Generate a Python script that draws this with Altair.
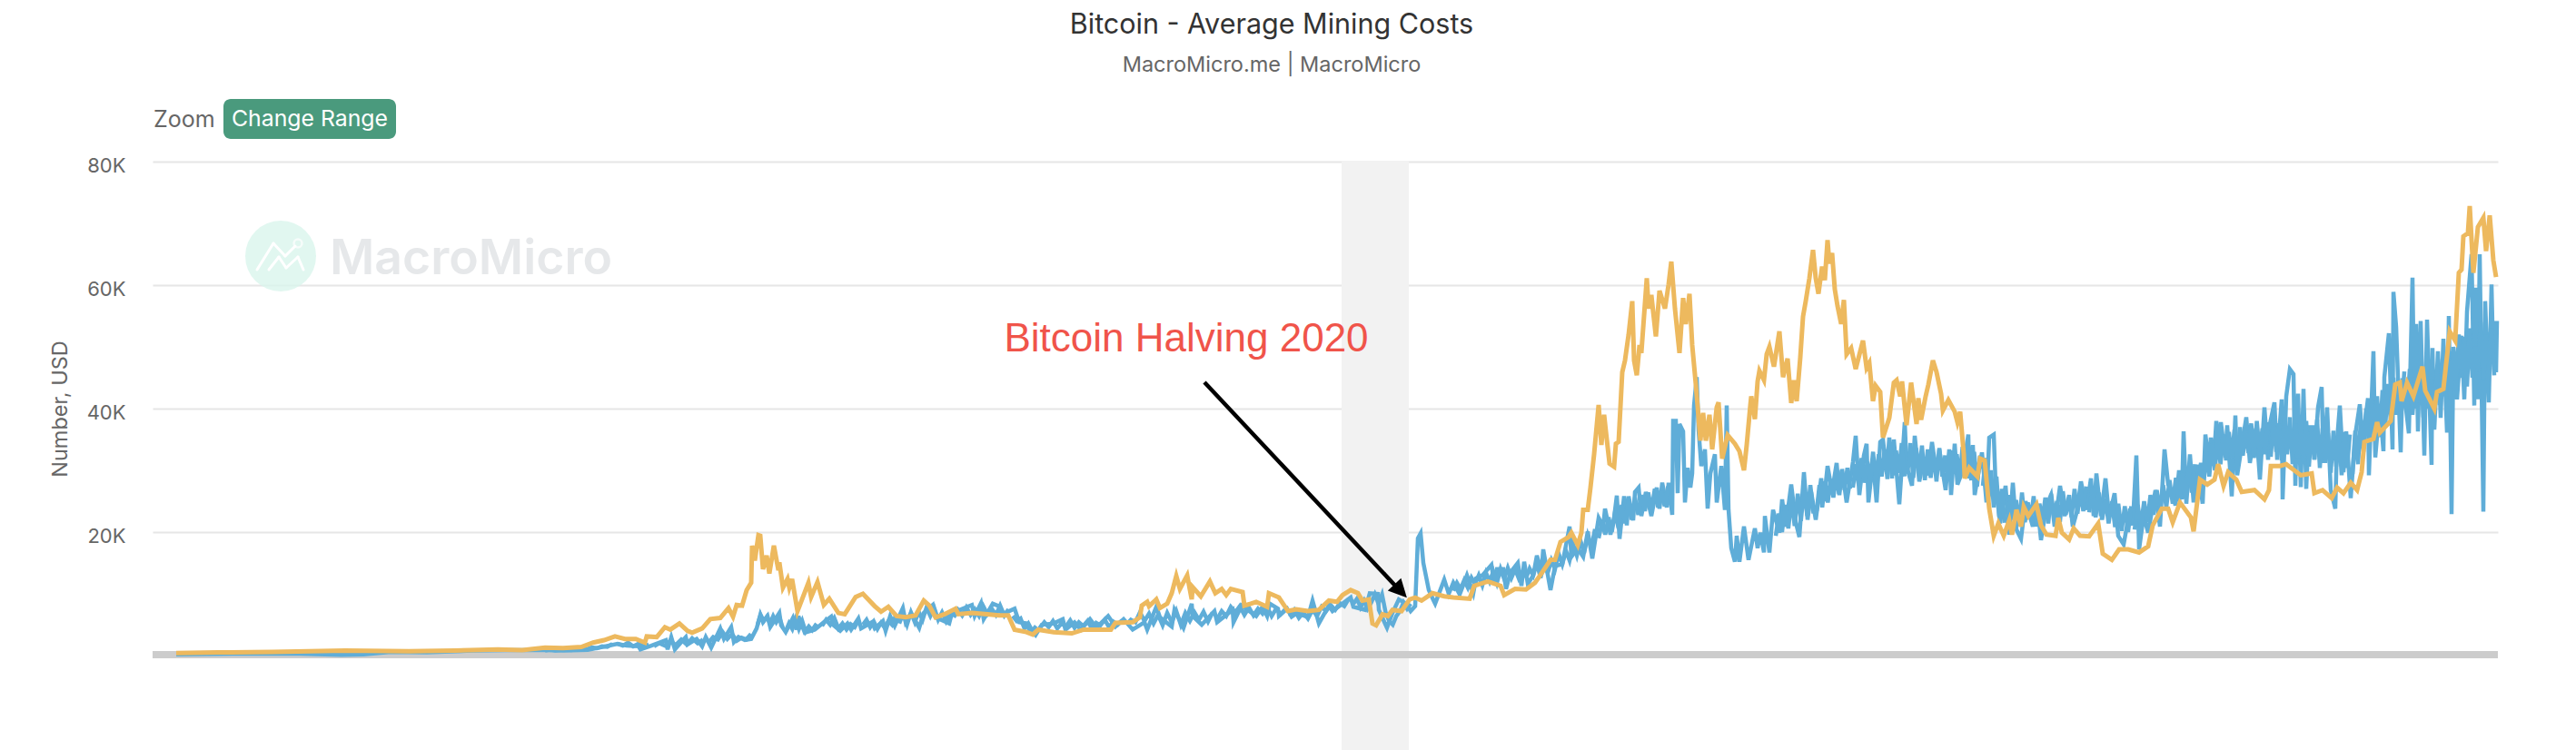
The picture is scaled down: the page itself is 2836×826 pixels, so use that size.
import altair as alt
import numpy as np
import pandas as pd

# Series values: (day position along the hidden time axis, USD thousands)
YELLOW = [
(194,.4),(240,.5),(300,.6),(380,.8),(450,.7),(500,.8),(548,1.0),(575,.9),(600,1.3),(620,1.2),(640,1.4),(653,2.1),(665,2.5),(677,3.1),(688,2.7),(700,2.7),(710,2.1),(712,3.1),(723,3.0),(732,4.6),(738,4.2),(748,5.2),(757,4.0),(762,3.7),(773,4.4),(782,5.9),(793,6.1),(802,7.7),(807,6.3),(811,8.2),(817,8.1),(822,10.6),(827,11.8),(828,17.8),(831,15.4),(835,19.5),(837,19.4),(840,14.0),(844,16.2),(847,13.3),(852,17.8),(857,13.8),(858,15.1),(862,11.0),(867,12.4),(869,11),(872,12.4),(878,7.2),(883,9.1),(890,11.8),(893,9.5),(900,11.9),(907,8.2),(913,9.2),(923,6.9),(930,6.7),(942,9.5),(950,10.0),(963,8.0),(970,7.1),(978,7.9),(987,6.4),(997,6.2),(1008,6.5),(1017,8.9),(1023,8.1),(1030,6.2),(1040,6.7),(1052,7.6),(1055,6.7),(1070,6.9),(1087,6.7),(1100,6.5),
(1110,6.5),(1117,4.2),(1130,3.8),(1137,3.4),(1143,4.2),(1160,3.8),(1180,3.6),(1193,4.2),(1223,4.2),(1228,5.3),(1247,5.4),(1255,6.2),(1257,8.1),(1263,8.7),(1265,8.0),(1273,9.1),(1277,7.7),(1285,8.4),(1290,10.1),(1295,12.9),(1299,10.8),(1307,13.0),(1312,9.1),(1313,11.1),(1322,9.6),(1332,12.0),(1338,10.1),(1345,10.8),(1350,9.8),(1355,10.8),(1368,10.3),(1370,8.1),(1377,8.4),(1383,8.7),(1395,7.9),(1397,10.1),(1408,9.4),(1418,7.2),(1427,7.5),(1440,7.2),(1452,7.4),(1463,8.9),(1472,8.7),(1478,9.8),(1487,10.6),(1495,10.1),(1500,8.9),(1507,9.1),(1511,5.2),(1515,4.9),(1522,6.7),(1528,6.4),(1533,7.4),(1543,7.2),(1552,9.1),(1558,9.4),(1565,8.9),(1577,10.1),(1590,9.6),(1600,9.4),
(1618,9.2),(1623,11.3),(1638,12.0),(1652,11.3),(1656,9.8),(1668,10.8),(1680,10.7),(1690,11.8),(1698,13.5),(1707,15.5),(1712,15.5),(1718,18.4),(1727,19.2),(1730,19.9),(1737,17.9),(1741,19.9),(1743,23.6),(1748,23.6),(1751,27.2),(1755,32.6),(1760,40.6),(1763,34.1),(1766,39.0),(1768,36.3),(1772,31.1),(1777,30.6),(1779,34.3),(1782,34.6),(1786,45.9),(1789,47.8),(1793,52.0),(1797,57.4),(1799,47.8),(1802,45.4),(1805,50.3),(1807,49.0),(1813,61.1),(1815,56.2),(1818,58.4),(1823,51.7),(1827,59.1),(1833,56.2),(1837,60.1),(1840,63.8),(1844,56.2),(1849,49.0),(1853,57.9),(1856,53.7),(1860,58.6),(1863,50.3),(1867,43.9),(1872,34.8),(1875,39.3),(1878,34.8),(1882,39.0),(1885,33.4),(1890,40.2),(1892,41),(1896,31.9),(1902,35.7),(1910,34.3),(1915,33.1),(1920,30),(1923,34.1),(1927,40.5),(1928,42),(1932,38.3),(1935,44.4),(1937,46.1),(1942,44.6),(1945,48.8),(1948,50),(1953,46.8),(1959,52.5),(1963,45.1),(1968,48.1),(1972,40.9),(1975,44.6),(1978,41.2),(1982,48.3),(1985,54.9),(1988,57.4),(1992,61.1),(1996,65.7),(1999,61.1),(2002,58.6),(2006,63),(2009,60.8),(2012,67.3),(2014,63.5),(2017,65.2),(2020,59.3),(2023,56.6),(2027,53.7),(2030,57.6),(2033,48.8),(2038,49.8),(2043,46.4),(2051,51),(2055,46.6),(2058,47.4),(2062,41.2),(2065,43.7),(2070,42.7),(2073,35.3),(2080,38.5),
(2085,44.2),(2088,44.6),(2092,42),(2094,44.4),(2099,37.3),(2104,44.2),(2110,37.5),(2112,41.7),(2115,38.2),(2120,42),(2123,43.9),(2128,47.8),(2132,45.9),(2137,42.4),(2139,39.7),(2145,41.4),(2152,39.5),(2155,37.8),(2158,39.5),(2162,32.6),(2163,28.7),(2168,30.4),(2177,29),(2180,31.9),(2185,31.6),(2190,23.8),(2195,19.4),(2200,21.4),(2206,19.4),(2212,21.9),(2215,19.6),(2220,23.6),(2225,20.9),(2228,24.1),(2233,22.6),(2242,24.5),(2247,21.1),(2253,19.6),(2263,19.4),(2266,22.3),(2270,19.9),(2278,18.8),(2283,20.6),(2290,19.4),(2300,19.3),(2310,21.4),(2315,16.5),(2325,15.5),(2333,17.2),(2343,17.2),(2355,16.7),(2365,17.7),(2370,21.1),(2380,23.8),(2387,23.8),(2392,21.6),(2400,24.8),
(2412,22.4),(2415,20.1),(2422,28.5),(2430,27.7),(2438,28.5),(2442,31),(2448,27.5),(2453,29.7),(2462,28.5),(2468,26.5),(2482,26.8),(2493,25.3),(2498,26.8),(2500,30.7),(2510,30.7),(2517,31),(2533,29.2),(2545,29.5),(2548,26.3),(2557,26.8),(2567,25.5),(2573,27.2),(2580,26.3),(2588,28),(2595,26.8),(2600,29.7),(2603,34.6),(2613,35.1),(2617,37.8),(2620,36.1),(2632,38),(2637,43.9),(2642,44.2),(2644,41.2),(2650,44.2),(2657,42),(2662,44.4),(2667,46.8),(2670,42.9),(2680,40),(2683,42.7),(2690,43.2),(2697,52.5),(2703,51),(2707,62),(2710,62.5),(2712,67.9),(2717,68.4),(2719,72.8),(2723,62),(2728,69.4),(2734,70.9),(2737,65.5),(2741,71.3),(2745,64),(2748,61.3),
]

BLUE = [
(194,.2),(260,.3),(330,.3),(376,.1),(400,.2),(430,.6),(470,.5),(520,.8),(560,.9),(600,.9),(620,.8),(647,.9),(667,1.5),(680,1.9),(690,1.6),(703,1.5),(705,1.0),(717,1.6),(733,2.5),(735,1.0),(739,3.0),(743,1.0),(755,3.0),(757,1.8),(767,2.7),(773,1.5),(777,3.0),(783,1.3),(793,4.4),(797,2.7),(805,4.6),(808,2.2),(813,3.0),(820,2.5),(827,2.7),(833,4.4),(837,6.6),(840,5.4),(845,6.4),(848,4.6),(858,6.9),(860,4.9),(865,3.8),(873,6.1),(877,4.2),(879,6.4),(886,3.7),(897,4.2),(907,5.4),(915,6.3),(917,5.0),(925,4.0),(933,5.2),(937,4.2),(945,6.0),(948,4.4),(960,5.4),(963,4.4),(972,5.6),(975,4.0),(980,6.4),(985,4.8),(994,7.7),(997,5.4),(1003,6.9),(1012,4.5),(1017,6.9),(1027,8.2),(1030,6.2),(1045,5.2),(1048,6.9),(1070,8.2),(1073,6.4),(1080,8.5),(1083,5.9),(1093,8.4),(1100,8.0),
(1103,6.7),(1117,7.6),(1122,5.4),(1130,5.2),(1133,4.2),(1140,3.3),(1147,5.0),(1160,5.2),(1170,5.9),(1173,4.2),(1183,5.4),(1190,4.2),(1200,5.9),(1207,4.5),(1220,6.4),(1228,4.7),(1237,5.9),(1247,4.2),(1260,5.4),(1263,4.2),(1273,7.9),(1277,6.2),(1290,4.7),(1293,7.4),(1303,4.5),(1312,8.4),(1313,6.4),(1323,5.0),(1337,7.2),(1340,5.4),(1357,7.4),(1358,5.4),(1367,8.1),(1383,6.4),(1390,7.9),(1395,6.4),(1398,8.4),(1407,7.6),(1408,6.4),(1417,7.6),(1422,6.3),(1428,6.9),(1440,6.2),(1445,8.9),(1452,5.2),(1463,8.1),(1467,7.2),(1487,9.4),(1490,7.9),(1503,7.4),(1508,10.1),(1517,10),(1518,7.4),(1527,4.5),(1533,6.9),(1540,9.1),(1548,8.4),(1553,7.2),(1558,8.0),(1561,19),(1564,19.8),(1567,15),(1573,10.6),(1578,9),(1580,8.4),
(1590,12.3),(1595,10),(1600,11.8),(1607,9.9),(1615,13),(1622,10.1),(1625,12.5),(1632,13),(1642,14.7),(1645,11.8),(1648,14),(1655,14),(1658,10.8),(1663,13.5),(1671,15),(1675,11.3),(1678,15.2),(1682,11.6),(1688,13),(1692,16.2),(1697,13.5),(1699,17.2),(1707,10.6),(1712,14.5),(1720,14.8),(1728,20.9),(1730,16),(1737,17.4),(1743,16),(1748,20.1),(1753,15.7),(1760,22.3),(1765,20.9),(1767,23.8),(1773,19.6),(1777,22.3),(1780,25.9),(1783,18.9),(1788,25.8),(1791,21.1),(1793,25.8),(1798,21.9),(1800,26.5),(1804,27.2),(1807,22.6),(1812,26.5),(1818,22.6),(1824,27.2),(1827,23.8),(1830,28),(1835,24),(1837,28),(1841,22.8),(1842,38),(1845,38),(1847,26.3),(1849,37.5),(1853,36.3),(1855,24.8),(1858,30.4),(1861,27.2),(1863,29.5),(1865,40.5),(1868,45.1),(1870,36.6),(1873,30.7),(1877,33.4),(1880,23.8),(1883,29.5),(1888,32.6),(1890,24.8),(1895,30.7),(1899,23.6),(1901,40.5),(1903,23.6),(1906,17.4),(1910,15.2),(1912,19.4),(1915,15.2),(1920,20.9),(1925,15.5),(1932,20.6),(1935,17.4),(1938,19.9),(1942,16.7),(1943,22.6),(1948,16.7),(1952,23.6),(1959,19.9),(1962,25.3),(1966,20.9),(1972,27.7),(1977,21.6),(1981,19.2),(1986,29.7),(1990,22),(1994,26.5),(1999,22),(2005,28.7),(2008,25),(2012,30.7),(2017,26.5),(2022,31.2),(2025,26),(2028,30.2),(2033,24.8),(2040,31.4),(2043,35.6),(2047,26),(2052,32.4),(2055,34.3),(2057,24.8),(2062,31.6),(2066,24.8),(2070,34.6),(2073,35),(2077,29.7),
(2080,35.3),(2083,28.7),(2085,35),(2091,24.5),(2097,37.8),(2099,30.7),(2105,27.5),(2108,35.6),(2113,28.2),(2118,31.9),(2123,29.2),(2127,34.6),(2132,29.2),(2135,33.4),(2142,26.8),(2146,33.4),(2148,26),(2152,34.3),(2155,27.7),(2161,30),(2167,35.8),(2168,28.7),(2172,34.1),(2174,26),(2182,32.9),(2187,24.8),(2190,35.3),(2195,35.8),(2197,27.7),(2202,21.4),(2208,27.5),(2212,19.6),(2216,28),(2220,20.4),(2225,18.9),(2230,25),(2238,20.9),(2243,24.5),(2247,18.7),(2253,24.3),(2258,26),(2262,20.9),(2268,27.5),(2273,22.6),(2278,26),(2282,20.9),(2287,23.6),(2291,28.2),(2297,23.6),(2302,28.7),(2305,22.6),(2308,29.5),(2313,22.6),(2318,28.7),(2322,22.4),(2328,26.3),(2332,19.4),(2338,18),(2345,23.8),(2348,21.1),(2352,32.4),(2355,17.2),(2360,22.6),(2365,19.9),(2373,26.8),(2378,20.9),(2383,33.4),(2387,27.7),(2392,26.5),(2395,24.3),(2399,30),
(2402,25.3),(2404,36.3),(2407,24.6),(2411,32.6),(2415,24.8),(2419,30.9),(2425,24.6),(2428,35.8),(2432,31),(2434,35.3),(2437,31),(2440,38),(2443,32.6),(2445,37.8),(2450,32.1),(2452,37.3),(2457,25.8),(2461,38.9),(2463,29.2),(2473,38.6),(2477,31.2),(2482,36),(2484,36.8),(2488,28.5),(2493,40.2),(2497,31.7),(2499,37.5),(2504,41),(2507,31.7),(2512,41.5),(2513,25.3),(2517,42),(2521,46.4),(2525,45.6),(2527,27.5),(2530,42.4),(2533,27.3),(2536,43.2),(2539,27),(2542,37),(2547,37),(2548,31.7),(2552,40.2),(2556,43.5),(2558,31.2),(2562,40.2),(2566,26.8),(2571,23.8),(2573,35),(2576,40.5),(2580,29.7),(2583,36.3),(2588,25.5),(2593,35.8),(2598,40.7),(2601,34.6),(2607,41.7),(2608,29.2),(2613,49.3),(2615,32.1),(2620,40.5),(2624,33.1),(2625,45.1),(2630,52.2),(2634,33.4),(2635,58.9),(2638,53.2),(2643,32.9),(2645,44.9),(2652,36),(2656,61.2),(2658,40),(2660,53.7),(2662,36.3),(2665,54.2),(2669,32.4),(2672,54.4),(2677,30.9),(2678,49.8),(2680,36.6),(2684,49.3),(2687,38.5),(2690,51.3),(2694,36.1),(2696,55),(2699,22.9),(2701,49.3),(2705,41.5),(2710,51.8),(2713,41.5),(2716,55.7),(2721,65),(2724,40.5),(2725,59.6),(2728,41.5),(2730,65),(2734,23.3),(2736,57.4),(2740,41),(2743,60.1),(2745,47.3),(2747,54.2),(2748,45.9),(2749,54.2),
]

# Dense day-to-day swing of the blue series, estimated by eye: (first day, last day, USD thousands)
BLUE_SWING = [
(600,680,[.8,1.0,.8,.9,1.1,.9,1.0,1.2,1.0,1.3,1.2,1.5,1.4,1.9]),
(680,720,[1.9,1.6,2.1,1.5,1.9,1.5,1.8]),
(720,780,[1.5,2.0,1.6,2.4,1.7,2.6,1.8,2.8,2.0,2.6]),
(780,832,[2.1,3.0,2.6,3.8,2.7,3.5,2.4,2.9,2.6,3.5]),
(834,865,[5.0,6.6,5.6,6.3,5.2,6.4,5.4,6.2,4.6]),
(865,905,[3.9,5.2,4.3,5.9,4.3,5.6,3.9,4.7,4.1,4.9,4.5]),
(905,950,[4.8,5.8,5.0,6.1,4.4,5.2,4.2,5.1,4.6,5.8]),
(950,990,[5.0,5.8,4.6,5.5,4.3,5.3,4.5,5.6,5.0,6.4]),
(990,1050,[5.2,6.8,5.0,7.0,5.4,7.1,5.8,7.8,6.4,7.7,5.8,7.0,5.6,7.0]),
(1050,1115,[6.2,7.4,6.5,7.8,6.6,7.5,6.4,8.0,6.7,7.6,6.6,8.1,6.5,7.5]),
(1115,1145,[6.4,5.6,6.0,4.4,5.2,4.0,4.8]),
(1145,1240,[4.5,5.4,4.6,5.6,4.4,5.2,4.7,5.7,4.5,5.4,4.8,5.6,4.4,5.3,4.9,5.8,4.6,5.5,5.0,5.7]),
(1240,1340,[5.0,5.8,5.4,7.0,5.6,6.8,5.2,6.6,4.9,6.9,5.4,7.2,5.0,6.9,5.6,7.0,5.8,7.1,5.5,7.0]),
(1340,1420,[5.9,7.2,6.4,7.9,7.0,8.0,6.6,7.8,6.5,7.6,6.8,7.9,6.4,7.6,6.7,7.5]),
(1420,1490,[6.3,7.4,6.1,7.0,6.0,7.4,6.4,7.9,7.2,8.2,7.4,8.5,8.0,9.2]),
(1490,1557,[8.4,9.2,7.8,8.9,7.6,8.6,9.9,8.4,9.9,7.0,5.6,5.0,6.4,7.2,8.6,7.6,8.4]),
(1600,1680,[10.5,11.8,10.8,12.2,11.0,12.6,11.6,13.0,11.4,13.4,12.0,13.6,11.8,14.0,12.4,14.2,12.6,14.0,12.5,13.6]),
(1680,1760,[12.5,14.1,13,15,12.6,14.8,13.4,15.4,14,16.5,14.8,17,15.4,18,16.2,18.6,16.6,19.4,17.5,20.5]),
(1760,1840,[19,21.5,19.6,22.4,20,23.4,20.6,24.4,21.4,25,22,25.6,22.8,26,23.4,26.4,23.6,27,24,26.6,24.2,27.4]),
(1955,2000,[19.4,23,20,24.4,20.6,25.4,21,26.2,21.8,27,22.6,27.6,23]),
(2000,2040,[23.4,27.6,24,28.2,24.8,28.6,25.6,29.4,26.2,30,26.8,30.4,27]),
(2040,2100,[27.2,31,27.6,32,28,31.4,28.4,33,28.2,32.6,29,33.4,28.6,34,29.2,33.2,29.6,34.4,29]),
(2100,2183,[29.4,34.4,28.8,33.6,29.6,34,28.4,33.4,28.8,32.8,28.2,33.6,29,32.4,28.4,33.2,29.6,32.6,28.8,33.8,29.2,32.2,28.4,33,27.4,32.4]),
(2183,2210,[27.5,32,25,30,24,29,22.5,27,21.5]),
(2210,2300,[21.4,26,22,25.2,21,26.4,21.6,24.8,22.2,25.8,20.9,24.6,22,25.6,21.4,26.2,22.4,25,21.6,26.6,22.8,25.4,22.4,27,23,26.8,23.4,27.4]),
(2300,2350,[23.2,27.2,22.4,26.4,22,25.4,21.4,25,20.8,24.6,20.2,24.2,20,24.2]),
(2350,2420,[20.4,24.4,21,25,21.6,26,22.8,26.8,23.6,27.6,24,28.4,24.6,28.8,25,29.6,25.4,30.6,26.4,31]),
(2420,2500,[26.6,31.2,28,33,29,34.4,30,35.4,31,35.8,31.6,36.2,32,36.6,31.2,37,32.4,36.4,32.8,37.6,32,38,33,36.8,32.6,37.8]),
(2500,2590,[32.2,38.4,33,37.6,31.6,38.2,32.6,38.6,31,37.6,32,36.6,31.4,38,30.6,37,31.8,38.2,30.4,36.8,31.2,36,29.6,36.4,30.6,35.6,29.2,36.2,30.4,35.8]),
(2590,2650,[29.4,36.4,31,38,33,40,35,41.5,36,42,35.4,43,37,44,38,45,39,44.4,40,46]),
(2650,2749,[40,46.4,39,45,41,47,38.6,46,40,44.8,39.4,46,40.6,48,42,49,41.4,50,44,52,45,51.6,43.6,53,45,50,46,54,44.6,52,46.2,53,45.4]),
]

Y_TICKS = [20000, 40000, 60000, 80000]
HALVING_BAND = [1477, 1551]
TITLE = "Bitcoin - Average Mining Costs"
SUBTITLE = "MacroMicro.me | MacroMicro"

L, T = 168, 178            # plot origin on the page
W, H = 2582, 544
one = pd.DataFrame({"a": [0]})


def series(rows):
    return pd.DataFrame({"day": [r[0] for r in rows], "usd": [r[1] * 1000 for r in rows]})


def swing(chunks):
    frames = []
    for i, (start, end, values) in enumerate(chunks):
        days = np.linspace(start, end, len(values), endpoint=False)
        frames.append(pd.DataFrame({"day": days, "usd": [v * 1000 for v in values], "chunk": i}))
    return pd.concat(frames)


xscale = alt.Scale(domain=[L, L + W], nice=False, zero=False)
yscale = alt.Scale(domain=[0, 80000], nice=False)


def label(text, px, py, size, color, font="Inter", align="center", weight=400, baseline="middle"):
    return alt.Chart(one).mark_text(
        text=text, font=font, fontSize=size, color=color, align=align, baseline=baseline, fontWeight=weight
    ).encode(x=alt.value(px - L), y=alt.value(py - T))


def seg(x1, y1, x2, y2, color, width, cap="round", opacity=1):
    return alt.Chart(one).mark_rule(color=color, strokeWidth=width, strokeCap=cap, opacity=opacity).encode(
        x=alt.value(x1 - L), x2=alt.value(x2 - L), y=alt.value(y1 - T), y2=alt.value(y2 - T)
    )


band = alt.Chart(pd.DataFrame({"start": [HALVING_BAND[0]], "end": [HALVING_BAND[1]]})).mark_rect(
    color="#f2f2f2"
).encode(
    x=alt.X("start:Q", scale=xscale, axis=None),
    x2="end:Q",
    y=alt.value(0),
    y2=alt.value(648),
)

base_axis = alt.Chart(one).mark_rule(color="#cccccc", strokeWidth=8).encode(
    x=alt.value(0), x2=alt.value(W), y=alt.value(543)
)

circle = alt.Chart(one).mark_point(filled=True, size=6084, color="#d9f5ec", opacity=0.8, shape="circle").encode(
    x=alt.value(309 - L), y=alt.value(282 - T)
)
logo_pts_a = [(283, 297), (301, 268), (314, 282), (325, 271)]
logo_pts_b = [(296, 297), (307, 283), (315, 295), (328, 283), (334, 297)]
logo = [seg(*p, *q, "#ffffff", 3) for pts in (logo_pts_a, logo_pts_b) for p, q in zip(pts, pts[1:])]
ring = alt.Chart(one).mark_point(filled=False, size=80, color="#ffffff", strokeWidth=2.5, shape="circle").encode(
    x=alt.value(328 - L), y=alt.value(268 - T)
)
wordmark = label("MacroMicro", 363, 302, 53.5, "#e6e8ea", align="left", weight=600, baseline="alphabetic")

blue = alt.Chart(series(BLUE)).mark_line(color="#5fadd8", strokeWidth=4.5, strokeJoin="miter", interpolate="linear").encode(
    x=alt.X("day:Q", scale=xscale, axis=None),
    y=alt.Y(
        "usd:Q",
        scale=yscale,
        axis=alt.Axis(
            values=Y_TICKS,
            labelExpr="datum.value / 1000 + 'K'",
            title="Number, USD",
            titleFont="Inter",
            titleFontSize=23.5,
            titleFontWeight=400,
            titleColor="#666666",
            titlePadding=17,
            labelFont="Inter",
            labelFontSize=22,
            labelColor="#666666",
            labelPadding=30,
            labelOffset=4,
            ticks=False,
            domain=False,
            grid=True,
            gridColor="#e6e6e6",
            gridWidth=2,
        ),
    ),
)
blue_swing = alt.Chart(swing(BLUE_SWING)).mark_line(
    color="#5fadd8", strokeWidth=4.5, strokeJoin="miter", interpolate="linear"
).encode(
    x=alt.X("day:Q", scale=xscale, axis=None),
    y=alt.Y("usd:Q", scale=yscale),
    detail="chunk:N",
)
yellow = alt.Chart(series(YELLOW)).mark_line(color="#edb95e", strokeWidth=5, strokeJoin="miter", interpolate="linear").encode(
    x=alt.X("day:Q", scale=xscale, axis=None),
    y=alt.Y("usd:Q", scale=yscale),
)

shaft = seg(1326, 421, 1537, 646, "#000000", 4.5, cap="butt")
head = alt.Chart(one).mark_point(
    filled=True, size=400, color="#000000", opacity=1, strokeWidth=0, shape="M0,-1L1,1L-1,1Z", angle=136.7
).encode(x=alt.value(1542 - L), y=alt.value(651 - T))

button = alt.Chart(one).mark_rect(color="#4a9a7d", cornerRadius=8).encode(
    x=alt.value(246 - L), x2=alt.value(436 - L), y=alt.value(109 - T), y2=alt.value(153 - T)
)

chart = alt.layer(
    band,
    circle,
    *logo,
    ring,
    wordmark,
    base_axis,
    blue,
    blue_swing,
    yellow,
    shaft,
    head,
    label("Bitcoin Halving 2020", 1306, 374, 44, "#f0544a", font="Liberation Sans"),
    label(TITLE, 1400, 28, 30.5, "#333333"),
    label(SUBTITLE, 1400, 72, 23.5, "#666666"),
    label("Zoom", 169, 132, 25, "#666666", align="left"),
    button,
    label("Change Range", 341, 132, 24.8, "#ffffff"),
).properties(
    width=W,
    height=H,
    padding={"left": L - 8, "top": T - 8, "right": 2836 - 16 - (L - 8) - W, "bottom": 818 - (T - 8) - H},
    autosize=alt.AutoSizeParams(type="none"),
    background="#ffffff",
).configure_view(stroke=None)

chart.save("out.html", embed_options={"renderer": "svg", "actions": False})
